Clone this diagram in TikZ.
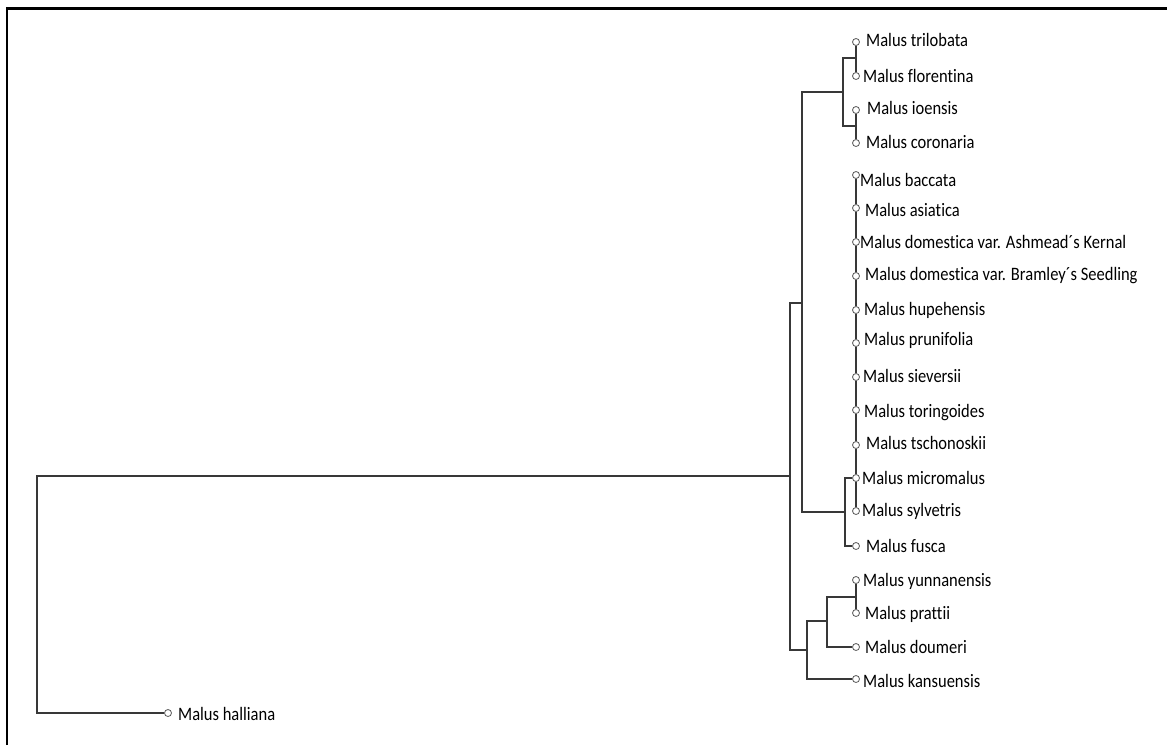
\documentclass[tikz,border=0pt]{standalone}
\usepackage{fontspec}
\setmainfont{Carlito}[Ligatures=NoCommon]
\usepackage{graphicx}
\newcommand\stretchtxt[1]{\scalebox{1}[1.15]{#1}}
\tikzset{
  tip/.style={circle, draw=black!65, fill=white, line width=0.8pt, minimum size=7pt, inner sep=0pt},
  lab/.style={anchor=base west, inner sep=0pt, font=\fontsize{16.5}{18}\selectfont, text=black},
  edge/.style={draw=black!78, line width=1.3pt},
  framebar/.style={line width=2.2pt, black},
}
\begin{document}
\begin{tikzpicture}[x=1pt, y=-1pt]
\useasboundingbox (0,0) rectangle (1167,745);
% frame
\coordinate (fa) at (7,745);
\coordinate (fb) at (7,8.5);
\coordinate (fc) at (1167,8.5);
\draw[framebar] (fa) -- (fb) -- (fc);
% tips
\foreach \n/\y in {tri/42, flo/76, ioe/110, cor/143, bac/175, asi/208, ash/242, bra/276, hup/310, pru/343, sie/377, tor/410, tsc/445, mic/478, syl/511, fus/546, yun/580, pra/613, dou/647, kan/679}
  \node[tip] (\n) at (856,\y) {};
\node[tip] (hal) at (168,713) {};
% labels
\node[lab] (ltri) at (866,46.5) {\stretchtxt{Malus trilobata}};
\node[lab] (lflo) at (863,82.5) {\stretchtxt{Malus florentina}};
\node[lab] (lioe) at (867,114.5) {\stretchtxt{Malus ioensis}};
\node[lab] (lcor) at (866,148.5) {\stretchtxt{Malus coronaria}};
\node[lab] (lbac) at (860,186.5) {\stretchtxt{Malus baccata}};
\node[lab] (lasi) at (865,216.5) {\stretchtxt{Malus asiatica}};
\node[lab] (lash) at (860,248.5) {\stretchtxt{Malus domestica var. Ashmead´s Kernal}};
\node[lab] (lbra) at (865,280.5) {\stretchtxt{Malus domestica var. Bramley´s Seedling}};
\node[lab] (lhup) at (864,315.5) {\stretchtxt{Malus hupehensis}};
\node[lab] (lpru) at (864,345.5) {\stretchtxt{Malus prunifolia}};
\node[lab] (lsie) at (863,382.5) {\stretchtxt{Malus sieversii}};
\node[lab] (ltor) at (864,417.5) {\stretchtxt{Malus toringoides}};
\node[lab] (ltsc) at (866,449.5) {\stretchtxt{Malus tschonoskii}};
\node[lab] (lmic) at (862,484.5) {\stretchtxt{Malus micromalus}};
\node[lab] (lsyl) at (862,516.5) {\stretchtxt{Malus sylvetris}};
\node[lab] (lfus) at (866,552.5) {\stretchtxt{Malus fusca}};
\node[lab] (lyun) at (863,586.5) {\stretchtxt{Malus yunnanensis}};
\node[lab] (lpra) at (865,619.5) {\stretchtxt{Malus prattii}};
\node[lab] (ldou) at (865,653.5) {\stretchtxt{Malus doumeri}};
\node[lab] (lkan) at (863,687.5) {\stretchtxt{Malus kansuensis}};
\node[lab] (lhal) at (178,720.5) {\stretchtxt{Malus halliana}};
% internal nodes
\coordinate (root) at (37,476);
\coordinate (nA) at (790,476);
\coordinate (nB) at (802,303);
\coordinate (nC) at (807,650);
\coordinate (nD) at (843,92);
\coordinate (nE) at (845,512);
\coordinate (nF) at (856,58);
\coordinate (nG) at (856,126);
\coordinate (nH) at (827,621);
\coordinate (nI) at (856,597);
% edges
\draw[edge] (nA) -- (root) |- (hal);
\draw[edge] (nB) -| (nA) |- (nC);
\draw[edge] (nD) -| (nB) |- (nE);
\draw[edge] (nF) -| (nD) |- (nG);
\draw[edge] (tri) -- (flo);
\draw[edge] (ioe) -- (cor);
\draw[edge] (mic) -| (nE) |- (fus);
\draw[edge] (bac) -- (asi) -- (ash) -- (bra) -- (hup) -- (pru) -- (sie) -- (tor) -- (tsc) -- (mic) -- (syl);
\draw[edge] (nI) -| (nH) |- (dou);
\draw[edge] (yun) -- (pra);
\draw[edge] (nH) -| (nC) |- (kan);
\end{tikzpicture}
\end{document}
